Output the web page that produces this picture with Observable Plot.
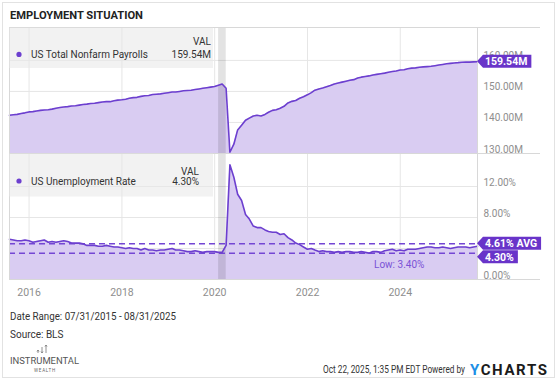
<!DOCTYPE html>
<html><head><meta charset="utf-8">
<script src="https://cdn.jsdelivr.net/npm/d3@7"></script>
<script src="https://cdn.jsdelivr.net/npm/@observablehq/plot@0.6"></script>
<style>
html,body{margin:0;padding:0;background:#fff;}
#root{position:relative;width:558px;height:380px;overflow:hidden;font-family:Roboto,sans-serif;}
#root > svg, #root > div{position:absolute;left:0;}
</style></head><body><div id="root"></div>
<script>
// ---- data ----
const startDate = "2015-07-31";
const endDate = "2025-08-31";
// US Total Nonfarm Payrolls, millions, monthly Jul 2015 .. Aug 2025
const payrolls = [
  142.3,142.5,142.6,142.9,143.1,143.4,
  143.5,143.7,143.9,144.0,144.1,144.3,144.6,144.8,145.0,145.1,145.3,145.4,
  145.6,145.8,145.9,146.1,146.2,146.4,146.6,146.7,146.7,147.0,147.2,147.3,
  147.5,147.8,148.0,148.1,148.4,148.6,148.7,149.0,149.1,149.2,149.4,149.6,
  149.8,149.8,150.0,150.2,150.3,150.4,150.6,150.8,151.0,151.2,151.4,151.6,
  152.0,152.4,151.0,130.4,133.0,137.6,139.1,140.7,141.4,142.1,142.3,142.1,
  142.6,143.3,143.9,144.1,144.6,145.2,146.3,146.8,147.1,147.8,148.3,148.9,
  149.6,150.4,150.8,151.1,151.5,151.9,152.4,152.7,153.0,153.3,153.6,153.8,
  154.3,154.6,154.8,155.0,155.3,155.5,155.7,155.9,156.2,156.4,156.6,156.9,
  157.0,157.3,157.5,157.6,157.8,157.9,158.0,158.1,158.3,158.5,158.7,158.9,
  159.05,159.15,159.27,159.42,159.44,159.43,159.51,159.54
];
// US Unemployment Rate, %, monthly Jul 2015 .. Aug 2025
const unemployment = [
  5.2,5.1,5.0,5.0,5.1,5.0,
  4.8,4.9,5.0,5.1,4.8,4.9,4.8,4.9,5.0,4.9,4.7,4.7,
  4.7,4.6,4.4,4.4,4.4,4.3,4.3,4.4,4.3,4.2,4.2,4.1,
  4.0,4.1,4.0,4.0,3.8,4.0,3.8,3.8,3.7,3.8,3.8,3.9,
  4.0,3.8,3.8,3.7,3.6,3.6,3.7,3.6,3.5,3.6,3.6,3.6,
  3.5,3.5,4.4,14.8,13.2,11.0,10.2,8.4,7.8,6.9,6.7,6.7,
  6.4,6.2,6.1,6.1,5.8,5.9,5.4,5.1,4.7,4.5,4.2,3.9,
  4.0,3.8,3.6,3.7,3.6,3.6,3.5,3.6,3.5,3.6,3.6,3.5,
  3.5,3.6,3.5,3.4,3.6,3.6,3.5,3.7,3.8,3.9,3.7,3.8,
  3.7,3.9,3.9,3.9,4.0,4.1,4.2,4.2,4.1,4.1,4.2,4.1,
  4.0,4.1,4.2,4.2,4.2,4.1,4.2,4.3
];
const payrollTicks = [130, 140, 150, 160];
const payrollDomain = [130, 170.6];
const rateTicks = [0, 4, 8, 12];
const rateDomain = [0, 16.26];
const yearTicks = ["2016-01-01","2018-01-01","2020-01-01","2022-01-01","2024-01-01"];
const recession = ["2020-02-01","2020-04-01"];
const lastPayroll = 159.54;
const lastRate = 4.30;
const avgRate = 4.61;
const lowRate = 3.40;
const lowDate = "2023-04-30";

// ---- styles ----
const FONT = "Roboto, sans-serif";
const LINE = "#6c3fcf", AREA = "#d9ccf2", TAG = "#6934c9", DASH = "#7446d4";
const GRID = "#e6e6e6", BORDER = "#d8d8d8", TICK = "#8e8e8e";

const parse = d3.utcParse("%Y-%m-%d");
const xDomain = [parse(startDate), parse(endDate)];
const months = d3.utcMonth.range(d3.utcMonth.floor(xDomain[0]), d3.utcMonth.offset(d3.utcMonth.floor(xDomain[1]), 1))
  .map(d => d3.utcDay.offset(d3.utcMonth.offset(d, 1), -1));
const payData = months.map((date, i) => ({date, v: payrolls[i]}));
const rateData = months.map((date, i) => ({date, v: unemployment[i]}));
const years = yearTicks.map(parse);
const band = [{x1: parse(recession[0]), x2: parse(recession[1])}];

const measure = document.createElement("canvas").getContext("2d");
function tags(items) {
  return (index, scales) => {
    const g = d3.create("svg:g");
    const cx = scales.x(xDomain[1]);
    const h = 13;
    let prevBottom = -Infinity;
    measure.font = `bold 10.5px ${FONT}`;
    items.map(it => ({...it, cy: scales.y(it.value)})).sort((a, b) => a.cy - b.cy).forEach(it => {
      let cy = it.cy;
      if (cy - h / 2 < prevBottom) cy = prevBottom + h / 2 + 0.5;
      prevBottom = cy + h / 2;
      const w = measure.measureText(it.label).width;
      const x1 = cx + 6, x2 = cx + 8 + w + 4;
      g.append("path")
        .attr("d", `M${cx},${cy}L${x1},${cy - h / 2}H${x2}V${cy + h / 2}H${x1}Z`)
        .attr("fill", TAG);
      g.append("text").attr("x", cx + 8).attr("y", cy).attr("dy", "0.36em")
        .attr("text-anchor", "start")
        .attr("fill", "#fff").attr("font-weight", "bold").attr("font-size", 10.5)
        .attr("font-family", FONT).text(it.label);
    });
    return g.node();
  };
}

const xOpts = {type: "utc", domain: xDomain, range: [9, 477], axis: null};

const topChart = Plot.plot({
  width: 558, height: 129, marginTop: 1, marginBottom: 2, marginLeft: 9, marginRight: 18,
  x: xOpts,
  y: {domain: payrollDomain, axis: null},
  style: {fontFamily: FONT, background: "transparent", overflow: "visible"},
  marks: [
    Plot.ruleY(payrollTicks.slice(1), {x1: xDomain[0], x2: xDomain[1], stroke: GRID}),
    Plot.ruleX(years, {stroke: GRID}),
    Plot.areaY(payData, {x: "date", y1: payrollDomain[0], y2: "v", fill: AREA}),
    Plot.rect(band, {x1: "x1", x2: "x2", fill: "#000", fillOpacity: 0.11}),
    Plot.lineY(payData, {x: "date", y: "v", stroke: LINE, strokeWidth: 1.6}),
    Plot.ruleY([payrollDomain[0], payrollDomain[1]], {stroke: BORDER}),
    Plot.ruleX(xDomain, {stroke: BORDER}),
    Plot.text(payrollTicks, {x: xDomain[1], y: d => d, text: d => d.toFixed(2) + "M",
      dx: 6, dy: -1, lineAnchor: "bottom", textAnchor: "start", fill: TICK, fontSize: 10}),
    tags([{value: lastPayroll, label: lastPayroll.toFixed(2) + "M"}])
  ]
});

const bottomChart = Plot.plot({
  width: 558, height: 149, marginTop: 1, marginBottom: 22, marginLeft: 9, marginRight: 18,
  x: {...xOpts, axis: null},
  y: {domain: rateDomain, axis: null},
  style: {fontFamily: FONT, background: "transparent", overflow: "visible"},
  marks: [
    Plot.ruleY(rateTicks.slice(1), {x1: xDomain[0], x2: xDomain[1], stroke: GRID}),
    Plot.ruleX(years, {stroke: GRID}),
    Plot.areaY(rateData, {x: "date", y: "v", fill: AREA}),
    Plot.rect(band, {x1: "x1", x2: "x2", fill: "#000", fillOpacity: 0.11}),
    Plot.ruleY([avgRate, lowRate], {x1: xDomain[0], x2: xDomain[1], stroke: DASH, strokeWidth: 1.5, strokeDasharray: "6,4"}),
    Plot.lineY(rateData, {x: "date", y: "v", stroke: LINE, strokeWidth: 1.6}),
    Plot.text([lowRate], {x: parse(lowDate), y: d => d, text: d => `Low: ${d.toFixed(2)}%`,
      dx: 5, dy: 12, textAnchor: "start", fill: "#7a52d6", fontSize: 10}),
    Plot.ruleY([rateDomain[0], rateDomain[1]], {stroke: BORDER}),
    Plot.ruleX(xDomain, {stroke: BORDER}),
    Plot.text(rateTicks, {x: xDomain[1], y: d => d, text: d => d.toFixed(2) + "%",
      dx: 6, dy: -1, lineAnchor: "bottom", textAnchor: "start", fill: TICK, fontSize: 10}),
    Plot.axisX(years, {tickSize: 0, tickPadding: 9, tickFormat: d3.utcFormat("%Y"), label: null,
      fill: TICK, fontSize: 10.5, anchor: "bottom"}),
    tags([{value: avgRate, label: avgRate.toFixed(2) + "% AVG"}, {value: lastRate, label: lastRate.toFixed(2) + "%"}])
  ]
});

const root = document.getElementById("root");
topChart.style.top = "26px";
bottomChart.style.top = "152px";
root.appendChild(topChart);
root.appendChild(bottomChart);

// ---- overlay: frame, title, legends, footer ----
const ov = d3.create("svg").attr("width", 558).attr("height", 380)
  .style("position", "absolute").style("top", "0px").style("left", "0px")
  .attr("font-family", FONT);
ov.append("rect").attr("x", 2.5).attr("y", 2.5).attr("width", 552).attr("height", 375)
  .attr("fill", "none").attr("stroke", "#e2e2e2");
ov.append("text").attr("x", 10).attr("y", 18.5).attr("font-size", 11.5).attr("font-weight", "bold")
  .attr("fill", "#222").attr("textLength", 133).attr("lengthAdjust", "spacingAndGlyphs").text("EMPLOYMENT SITUATION");

function legend(y0, h, name, val, yVal, yName, right) {
  const g = ov.append("g");
  g.append("rect").attr("x", 9).attr("y", y0).attr("width", 204).attr("height", h).attr("fill", "rgba(232,232,232,0.55)");
  g.append("circle").attr("cx", 19).attr("cy", yName).attr("r", 2.6).attr("fill", LINE);
  g.append("text").attr("x", 31).attr("y", yName).attr("dy", "0.36em").attr("font-size", 10).attr("fill", "#333").text(name);
  g.append("text").attr("x", right).attr("y", yVal).attr("dy", "0.36em").attr("font-size", 10).attr("fill", "#333")
    .attr("text-anchor", "end").text("VAL");
  g.append("text").attr("x", right).attr("y", yName).attr("dy", "0.36em").attr("font-size", 10).attr("fill", "#333")
    .attr("text-anchor", "end").text(val);
}
legend(27.5, 40.5, "US Total Nonfarm Payrolls", lastPayroll.toFixed(2) + "M", 41.7, 54.4, 211);
legend(153.5, 43, "US Unemployment Rate", lastRate.toFixed(2) + "%", 171.7, 181, 199);

ov.append("text").attr("x", 10).attr("y", 320).attr("font-size", 10).attr("fill", "#333")
  .attr("textLength", 166).attr("lengthAdjust", "spacingAndGlyphs")
  .text(`Date Range: ${d3.utcFormat("%m/%d/%Y")(xDomain[0])} - ${d3.utcFormat("%m/%d/%Y")(xDomain[1])}`);
ov.append("text").attr("x", 10).attr("y", 338).attr("font-size", 10).attr("fill", "#333").text("Source: BLS");

// logo
const lg = ov.append("g").attr("stroke", "#777").attr("stroke-width", 0.8).attr("fill", "none");
[[38, 350, 353, 1], [42, 347, 353, -1], [46, 345, 353, 1]].forEach(([x, ya, yb, up]) => {
  lg.append("line").attr("x1", x).attr("x2", x).attr("y1", ya).attr("y2", yb);
  const ty = up > 0 ? ya : yb;
  lg.append("path").attr("d", up > 0 ? `M${x - 1},${ty + 1.5}L${x},${ty}L${x + 1},${ty + 1.5}` : `M${x - 1},${ty - 1.5}L${x},${ty}L${x + 1},${ty - 1.5}`);
});
ov.append("text").attr("x", 10).attr("y", 364).attr("font-size", 9).attr("fill", "#555")
  .attr("textLength", 69).attr("lengthAdjust", "spacingAndGlyphs").text("INSTRUMENTAL");
ov.append("text").attr("x", 45).attr("y", 371.5).attr("font-size", 4.5).attr("fill", "#666")
  .attr("text-anchor", "middle").attr("letter-spacing", 0.8).text("WEALTH");

ov.append("text").attr("x", 465).attr("y", 373).attr("font-size", 10).attr("fill", "#333")
  .attr("text-anchor", "end").attr("textLength", 142).attr("lengthAdjust", "spacingAndGlyphs")
  .text("Oct 22, 2025, 1:35 PM EDT Powered by");
const yc = ov.append("text").attr("x", 470).attr("y", 374.5).attr("font-size", 15).attr("font-weight", "bold")
  .attr("letter-spacing", 1.6);
yc.append("tspan").attr("fill", "#1d8fe6").text("Y");
yc.append("tspan").attr("fill", "#1b1b1b").text("CHARTS");

root.appendChild(ov.node());
</script></body></html>
